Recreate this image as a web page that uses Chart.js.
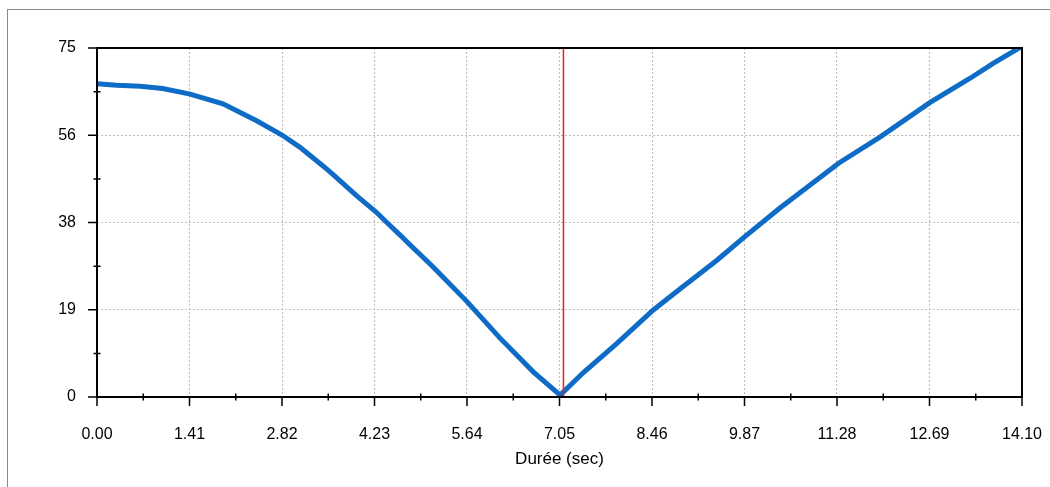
<!DOCTYPE html>
<html>
<head>
<meta charset="utf-8">
<script src="https://cdn.jsdelivr.net/npm/chart.js@4.4.0/dist/chart.umd.min.js"></script>
<style>
  html, body { margin: 0; padding: 0; background: #fff; }
  #wrap { position: relative; width: 1050px; height: 487px; }
  #frame { position: absolute; left: 7px; top: 9px; right: 0; bottom: 0;
           border-left: 1px solid #8a8a8a; border-top: 1px solid #8a8a8a; }
  canvas { position: absolute; left: 0; top: 0; }
</style>
</head>
<body>
<div id="wrap">
  <div id="frame"></div>
  <canvas id="chart" width="1050" height="487"></canvas>
</div>
<script>
const times  = [0.00, 0.30, 0.66, 1.00, 1.42, 1.92, 2.44, 2.82, 3.09, 3.45, 3.60, 3.96,
                4.25, 4.47, 4.62, 4.77, 5.12, 5.64, 6.14, 6.65, 7.06, 7.41, 7.93, 8.48, 8.93,
                9.45, 9.88, 10.41, 11.07, 11.31, 11.94, 12.70, 13.31, 13.66, 14.08];
const values = [67.3, 67.0, 66.8, 66.3, 65.1, 63.0, 59.3, 56.3, 53.7, 49.6, 47.8, 43.2,
                39.8, 36.8, 34.8, 32.7, 28.0, 20.5, 12.7, 5.4, 0.4, 5.2, 11.6, 18.7, 23.7,
                29.4, 34.5, 40.6, 47.7, 50.3, 55.9, 63.3, 68.5, 71.7, 75.2];

const xTickValues = [0, 1.41, 2.82, 4.23, 5.64, 7.05, 8.46, 9.87, 11.28, 12.69, 14.10];
const xTickLabels = ['0.00', '1.41', '2.82', '4.23', '5.64', '7.05', '8.46', '9.87', '11.28', '12.69', '14.10'];
const yTickValues = [0, 18.75, 37.5, 56.25, 75];
const yTickLabels = ['0', '19', '38', '56', '75'];
const cursorTime = 7.11;

const points = times.map((t, i) => ({ x: t, y: values[i] }));

// axes box, tick marks and red cursor
const decor = {
  id: 'decor',
  afterDatasetsDraw(chart) {
    const { ctx, chartArea: a, scales: { x } } = chart;
    ctx.save();
    const cx = x.getPixelForValue(cursorTime);
    ctx.strokeStyle = '#ff1a1a';
    ctx.lineWidth = 1.5;
    ctx.beginPath();
    ctx.moveTo(cx, a.top);
    ctx.lineTo(cx, a.bottom);
    ctx.stroke();
    ctx.restore();
  },
  afterDraw(chart) {
    const { ctx, chartArea: a, scales: { x, y } } = chart;
    ctx.save();
    ctx.strokeStyle = '#000';
    ctx.lineWidth = 2;
    ctx.strokeRect(a.left, a.top, a.right - a.left, a.bottom - a.top);
    ctx.lineWidth = 1.5;
    ctx.beginPath();
    xTickValues.forEach((v, i) => {
      const px = x.getPixelForValue(v);
      ctx.moveTo(px, a.bottom);
      ctx.lineTo(px, a.bottom + 9);
      if (i < xTickValues.length - 1) {
        const mx = x.getPixelForValue((v + xTickValues[i + 1]) / 2);
        ctx.moveTo(mx, a.bottom - 3.5);
        ctx.lineTo(mx, a.bottom + 3.5);
      }
    });
    yTickValues.forEach((v, i) => {
      const py = y.getPixelForValue(v);
      ctx.moveTo(a.left - 9, py);
      ctx.lineTo(a.left, py);
      if (i < yTickValues.length - 1) {
        const my = y.getPixelForValue((v + yTickValues[i + 1]) / 2);
        ctx.moveTo(a.left - 3.5, my);
        ctx.lineTo(a.left + 3.5, my);
      }
    });
    ctx.stroke();
    ctx.restore();
  }
};

new Chart(document.getElementById('chart'), {
  type: 'line',
  data: {
    datasets: [{
      data: points,
      borderColor: '#0f6cc6',
      borderWidth: 5,
      pointRadius: 0,
      tension: 0
    }]
  },
  options: {
    responsive: false,
    animation: false,
    layout: { padding: { left: 0, right: 28, top: 48, bottom: 0 } },
    plugins: { legend: { display: false }, tooltip: { enabled: false } },
    scales: {
      x: {
        type: 'linear',
        min: 0,
        max: 14.1,
        afterBuildTicks: (s) => { s.ticks = xTickValues.map(v => ({ value: v })); },
        afterFit: (s) => { s.height = 90; s.paddingLeft = 0; s.paddingRight = 0; },
        grid: { color: '#bdbdbd', lineWidth: 1, drawTicks: false },
        border: { display: false, dash: [2, 2] },
        ticks: {
          padding: 28,
          autoSkip: false,
          maxRotation: 0,
          color: '#000',
          font: { family: 'Liberation Sans, Arial, sans-serif', size: 16 },
          callback: (v, i) => xTickLabels[i]
        },
        title: {
          display: true,
          text: 'Durée (sec)',
          color: '#000',
          font: { family: 'Liberation Sans, Arial, sans-serif', size: 17 },
          padding: { top: 0, bottom: 17 }
        }
      },
      y: {
        min: 0,
        max: 75,
        afterBuildTicks: (s) => { s.ticks = yTickValues.map(v => ({ value: v })); },
        afterFit: (s) => { s.width = 97; s.paddingTop = 0; s.paddingBottom = 0; },
        grid: { color: '#bdbdbd', lineWidth: 1, drawTicks: false },
        border: { display: false, dash: [2, 2] },
        ticks: {
          padding: 21,
          color: '#000',
          font: { family: 'Liberation Sans, Arial, sans-serif', size: 16 },
          callback: (v, i) => yTickLabels[i]
        }
      }
    }
  },
  plugins: [decor]
});
</script>
</body>
</html>
